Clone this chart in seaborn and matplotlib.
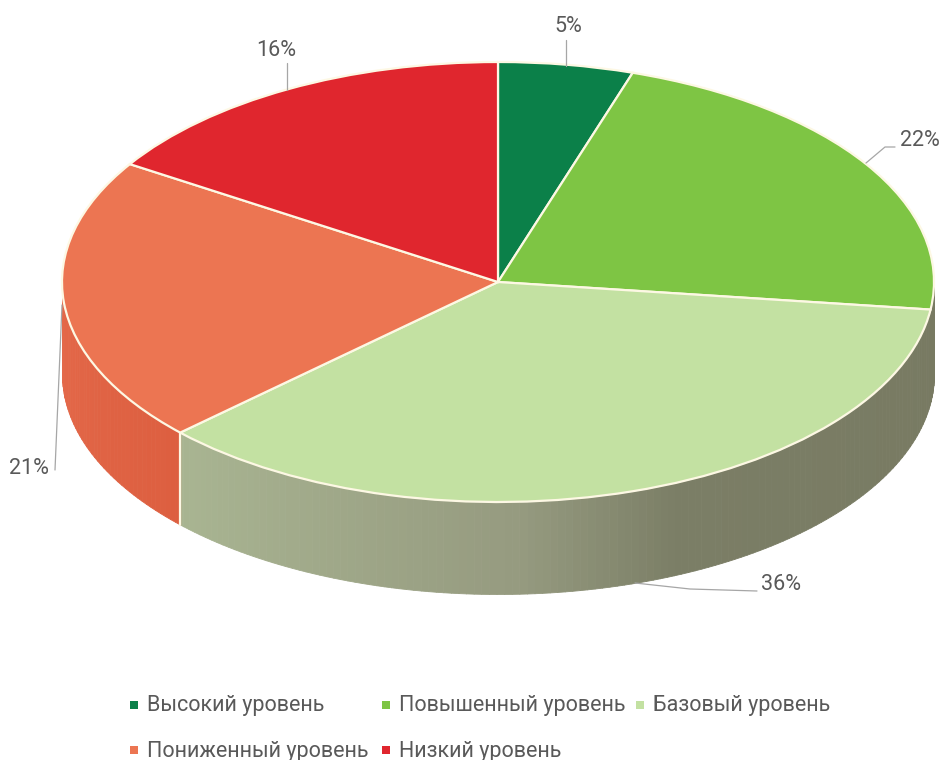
import numpy as np
import matplotlib
matplotlib.use("Agg")
import matplotlib.pyplot as plt
from matplotlib.colors import LinearSegmentedColormap
import seaborn as sns

# Data
levels = ["Высокий уровень", "Повышенный уровень", "Базовый уровень",
          "Пониженный уровень", "Низкий уровень"]
shares = [5, 22, 36, 21, 16]
share_labels = ["5%", "22%", "36%", "21%", "16%"]

colors = ["#0b8049", "#7ec544", "#c3e1a2", "#ec7552", "#e0262e"]
wall_shades = [
    [(0, "#0b6b3e"), (1, "#0b6b3e")],
    [(0, "#787a62"), (1, "#787a62")],
    [(0, "#787a62"), (0.45, "#7b7e66"), (0.62, "#969b80"), (1, "#a9b592")],
    [(0, "#dd5f40"), (1, "#e4694a")],
    [(0, "#c02028"), (1, "#c02028")],
]

sns.set_theme(style="white")
plt.rcParams["font.family"] = ["Roboto", "DejaVu Sans"]
text_color = "#595959"
seam = "#fdf8e4"

W, H = 942, 760
cx, cy, rx, ry, depth = 498, 282, 436, 220, 92

fig = plt.figure(figsize=(W / 100, H / 100), dpi=100)
ax = fig.add_axes([0, 0, 1, 1])

# top of the pie
ax.pie(shares, colors=colors, startangle=90, counterclock=False,
       wedgeprops={"edgecolor": seam, "linewidth": 1.6})
ax.set_aspect("auto")
ax.set_xlim(-cx / rx, (W - cx) / rx)
ax.set_ylim(-(H - cy) / ry, cy / ry)

# side wall, only the front half of each slice shows
d = depth / ry
edges = np.cumsum([0] + shares) * 3.6
for i in range(len(shares)):
    a0, a1 = max(edges[i], 90), min(edges[i + 1], 270)
    if a1 <= a0:
        continue
    cmap = LinearSegmentedColormap.from_list("w", wall_shades[i])
    steps = np.arange(a0, a1 + 1, 1.0)
    steps[-1] = a1
    for k in range(len(steps) - 1):
        t = np.radians(steps[k:k + 2])
        x, y = np.sin(t), np.cos(t)
        c = cmap((steps[k] - a0) / (a1 - a0))
        ax.fill_between(x, y, y - d, color=c, linewidth=0.6, zorder=0)

# seam where orange meets the light green wall
t = np.radians(edges[3])
ax.plot([np.sin(t)] * 2, [np.cos(t), np.cos(t) - d], color=seam, lw=1.6, zorder=2)

# overlay in pixel coordinates for labels and legend
ov = fig.add_axes([0, 0, 1, 1])
ov.set_xlim(0, W)
ov.set_ylim(H, 0)
ov.axis("off")
ov.patch.set_alpha(0)

label_pos = [(568, 27), (920, 141), (781, 585), (29, 469), (276, 50)]
leaders = [([566, 566], [40, 66]),
           ([866, 885, 895], [163, 147, 147]),
           ([635, 690, 757], [583, 589, 591]),
           ([62, 55], [305, 470]),
           ([287, 287], [63, 90])]
for lab, (x, y), (lx, ly) in zip(share_labels, label_pos, leaders):
    ov.text(x, y, lab, fontsize=15.5, color=text_color, ha="center", va="center")
    ov.plot(lx, ly, color="#a6a6a6", lw=0.9)

legend_pos = [(134, 705), (386, 705), (640, 705), (134, 750), (386, 750)]
for name, c, (x, y) in zip(levels, colors, legend_pos):
    ov.scatter([x], [y], marker="s", s=30, color=c, linewidths=0)
    ov.text(x + 13, y + 1, name, fontsize=15.5, color=text_color, ha="left", va="center")

fig.savefig("out.png", dpi=100)
